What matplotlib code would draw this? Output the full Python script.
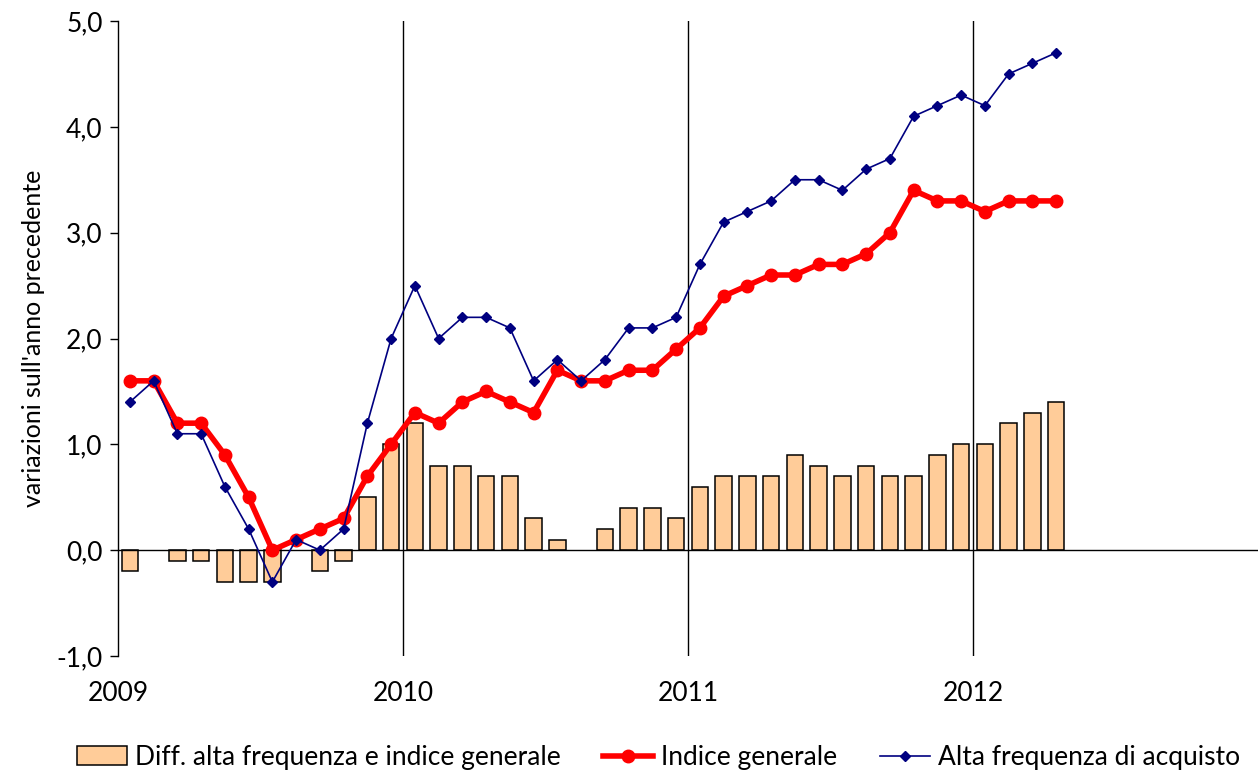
import matplotlib
matplotlib.use("Agg")
import matplotlib.pyplot as plt
import numpy as np

# Monthly data, Jan 2009 - Apr 2012
years = ["2009", "2010", "2011", "2012"]
indice_generale = [
    1.6, 1.6, 1.2, 1.2, 0.9, 0.5, 0.0, 0.1, 0.2, 0.3, 0.7, 1.0,
    1.3, 1.2, 1.4, 1.5, 1.4, 1.3, 1.7, 1.6, 1.6, 1.7, 1.7, 1.9,
    2.1, 2.4, 2.5, 2.6, 2.6, 2.7, 2.7, 2.8, 3.0, 3.4, 3.3, 3.3,
    3.2, 3.3, 3.3, 3.3,
]
alta_frequenza = [
    1.4, 1.6, 1.1, 1.1, 0.6, 0.2, -0.3, 0.1, 0.0, 0.2, 1.2, 2.0,
    2.5, 2.0, 2.2, 2.2, 2.1, 1.6, 1.8, 1.6, 1.8, 2.1, 2.1, 2.2,
    2.7, 3.1, 3.2, 3.3, 3.5, 3.5, 3.4, 3.6, 3.7, 4.1, 4.2, 4.3,
    4.2, 4.5, 4.6, 4.7,
]
differenza = [
    -0.2, 0.0, -0.1, -0.1, -0.3, -0.3, -0.3, 0.0, -0.2, -0.1, 0.5, 1.0,
    1.2, 0.8, 0.8, 0.7, 0.7, 0.3, 0.1, 0.0, 0.2, 0.4, 0.4, 0.3,
    0.6, 0.7, 0.7, 0.7, 0.9, 0.8, 0.7, 0.8, 0.7, 0.7, 0.9, 1.0,
    1.0, 1.2, 1.3, 1.4,
]

plt.rcParams["font.family"] = ["Lato", "DejaVu Sans"]

fig = plt.figure(figsize=(12.59, 7.72), dpi=100)
ax = fig.add_axes([118 / 1259, 1 - 656 / 772, 1140 / 1259, 635 / 772])

x = np.arange(len(indice_generale)) + 0.5
diff = np.array(differenza)
nz = diff != 0  # zero-height bars are not drawn

bars = ax.bar(x[nz], diff[nz], width=0.7, color="#FFCC99", edgecolor="black",
              linewidth=1.1, label="Diff. alta frequenza e indice generale", zorder=2)
red, = ax.plot(x, indice_generale, color="#FF0000", linewidth=4, marker="o",
               markersize=9, label="Indice generale", zorder=4)
blue, = ax.plot(x, alta_frequenza, color="#000080", linewidth=1.2, marker="D",
                markersize=5, label="Alta frequenza di acquisto", zorder=5)

ax.axhline(0, color="black", linewidth=1, zorder=3)
for k in range(1, len(years)):
    ax.axvline(12 * k, color="black", linewidth=1, zorder=1)

ax.set_xlim(0, 48)
ax.set_ylim(-1.0, 5.0)
yt = np.arange(-1.0, 5.01, 1.0)
ax.set_yticks(yt)
ax.set_yticklabels([f"{v:.1f}".replace(".", ",") for v in yt], fontsize=19)
ax.set_xticks([12 * k for k in range(len(years))])
ax.set_xticklabels(years, fontsize=19)
ax.tick_params(axis="x", length=0, pad=18)
ax.tick_params(axis="y", direction="out", length=6, width=1, pad=5)

for side in ["top", "right", "bottom"]:
    ax.spines[side].set_visible(False)
ax.spines["left"].set_linewidth(1)

ax.set_ylabel("variazioni sull'anno precedente", fontsize=18, labelpad=8)

fig.legend([bars, red, blue],
           [bars.get_label(), red.get_label(), blue.get_label()],
           loc="lower center", bbox_to_anchor=(0.523, -0.028),
           ncol=3, frameon=False, fontsize=19, handlelength=1.9,
           columnspacing=1.6, handletextpad=0.3)

fig.savefig("out.png", dpi=100)
